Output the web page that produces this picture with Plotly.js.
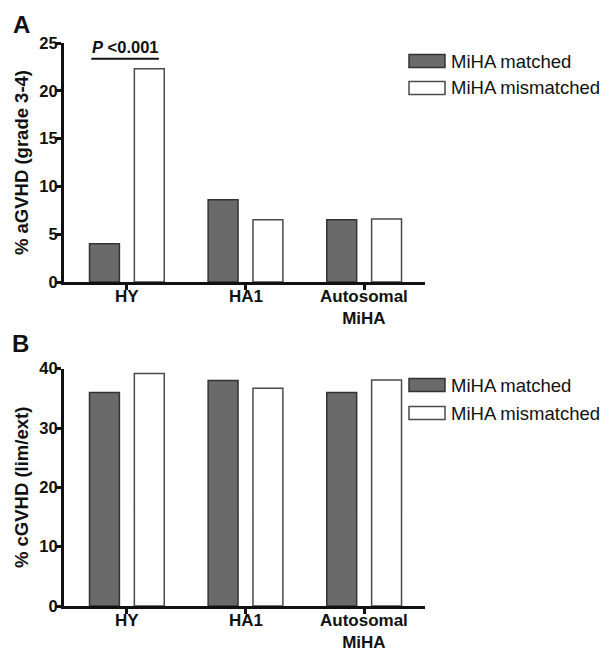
<!DOCTYPE html>
<html>
<head>
<meta charset="utf-8">
<script src="https://cdn.plot.ly/plotly-3.0.1.min.js"></script>
<style>html,body{margin:0;padding:0;background:#fff;}#chart{width:607px;height:652px;}</style>
</head>
<body>
<div id="chart"></div>
<script>
// ---- data ----
var categories = ["HY", "HA1", "Autosomal<br>MiHA"];
var seriesNames = ["MiHA matched", "MiHA mismatched"];
var aGVHD_matched = [4.0, 8.6, 6.5];
var aGVHD_mismatched = [22.3, 6.5, 6.6];
var cGVHD_matched = [36.0, 38.0, 36.0];
var cGVHD_mismatched = [39.2, 36.7, 38.1];
var yTicksA = [0, 5, 10, 15, 20, 25];
var yTicksB = [0, 10, 20, 30, 40];
var pValueText = "<i>P</i> &lt;0.001";

// ---- layout geometry (pixels) ----
var W = 607, H = 652, L = 64, R = 182, T = 43, B = 46;
var PW = W - L - R, PH = H - T - B;
function px(x) { return (x - L) / PW; }
function py(y) { return (H - B - y) / PH; }

var font = "Liberation Sans, Arial, Helvetica, sans-serif";
var darkFill = "#6a6a6a", darkLine = "#333333", lightFill = "#ffffff", lightLine = "#4a4a4a";

function barTrace(vals, name, fill, line, xa, ya) {
  return {
    type: "bar", x: categories, y: vals, name: name, xaxis: xa, yaxis: ya,
    marker: { color: fill, line: { color: line, width: 1.5 } },
    showlegend: false, hoverinfo: "skip"
  };
}

var data = [
  barTrace(aGVHD_matched, seriesNames[0], darkFill, darkLine, "x", "y"),
  barTrace(aGVHD_mismatched, seriesNames[1], lightFill, lightLine, "x", "y"),
  barTrace(cGVHD_matched, seriesNames[0], darkFill, darkLine, "x2", "y2"),
  barTrace(cGVHD_mismatched, seriesNames[1], lightFill, lightLine, "x2", "y2")
];

var yTickFont = { family: font, size: 16.5, color: "#111", weight: "bold" };
var xTickFont = { family: font, size: 17, color: "#111", weight: "bold" };
function xAxis(anchor) {
  return {
    anchor: anchor, domain: [0, 1], type: "category", range: [-0.53, 2.513],
    showline: true, linewidth: 3, linecolor: "#111",
    ticks: "outside", ticklen: 5, tickwidth: 3, tickcolor: "#111",
    showticklabels: false, showgrid: false, zeroline: false, fixedrange: true
  };
}
function yAxis(anchor, dom, rng, tv, title) {
  return {
    anchor: anchor, domain: dom, range: rng, tickvals: tv, ticktext: tv.map(String),
    showline: true, linewidth: 3, linecolor: "#111",
    ticks: "outside", ticklen: 6, tickwidth: 3, tickcolor: "#111", ticklabelstandoff: -6,
    tickfont: yTickFont, showgrid: false, zeroline: false, fixedrange: true,
    title: { text: title, font: { family: font, size: 18.5, color: "#111", weight: "bold" }, standoff: 6 }
  };
}

var shapes = [];
var annotations = [];

// category labels under each x axis
function catLabels(xref, topPx) {
  categories.forEach(function (c) {
    annotations.push({ xref: xref, yref: "paper", x: c, y: py(topPx), xanchor: "center", yanchor: "top",
      showarrow: false, text: c, font: xTickFont });
  });
}
catLabels("x", 285);
catLabels("x2", 608.5);

// legend drawn as shapes + annotations (wide swatches as in the figure)
function legendAt(y1, y2) {
  var rows = [[y1, darkFill, darkLine, seriesNames[0]], [y2, lightFill, lightLine, seriesNames[1]]];
  rows.forEach(function (r) {
    shapes.push({ type: "rect", xref: "paper", yref: "paper",
      x0: px(409), x1: px(445), y0: py(r[0] + 6.5), y1: py(r[0] - 6.5),
      fillcolor: r[1], line: { color: r[2], width: 1.5 } });
    annotations.push({ xref: "paper", yref: "paper", x: px(449), y: py(r[0]),
      xanchor: "left", yanchor: "middle", showarrow: false, text: r[3],
      font: { family: font, size: 18.5, color: "#111" } });
  });
}
legendAt(61, 88);
legendAt(385, 413);

// panel letters
annotations.push({ xref: "paper", yref: "paper", x: px(21), y: py(24), xanchor: "center", yanchor: "middle",
  showarrow: false, text: "<b>A</b>", font: { family: font, size: 24, color: "#111" } });
annotations.push({ xref: "paper", yref: "paper", x: px(20), y: py(343), xanchor: "center", yanchor: "middle",
  showarrow: false, text: "<b>B</b>", font: { family: font, size: 24, color: "#111" } });

// significance bracket in panel A
shapes.push({ type: "line", xref: "x", yref: "y", x0: -0.30, x1: 0.27, y0: 23.35, y1: 23.35,
  line: { color: "#111", width: 2 } });
annotations.push({ xref: "x", yref: "y", x: -0.01, y: 24.6, xanchor: "center", yanchor: "middle",
  showarrow: false, text: "<b>" + pValueText + "</b>",
  font: { family: font, size: 16.5, color: "#111" } });

var layout = {
  width: W, height: H,
  margin: { l: L, r: R, t: T, b: B, pad: 0 },
  paper_bgcolor: "#fff", plot_bgcolor: "#fff",
  barmode: "group", bargap: 0.244, bargroupgap: 0.333,
  xaxis: xAxis("y"),
  yaxis: yAxis("x", [py(282), 1], [0, 25], yTicksA, "% aGVHD (grade 3-4)"),
  xaxis2: xAxis("y2"),
  yaxis2: yAxis("x2", [0, py(368.7)], [0, 40], yTicksB, "% cGVHD (lim/ext)"),
  shapes: shapes, annotations: annotations,
  showlegend: false
};

Plotly.newPlot("chart", data, layout, { staticPlot: true, displayModeBar: false });
</script>
</body>
</html>
